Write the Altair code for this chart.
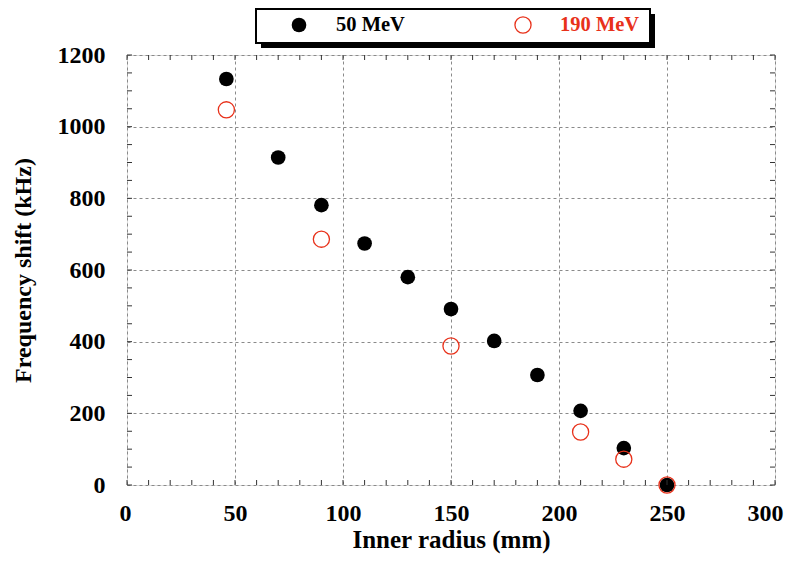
import altair as alt
import pandas as pd

# ---- data ----
r50 = [46, 70, 90, 110, 130, 150, 170, 190, 210, 230, 250]
f50 = [1133, 914, 781, 674, 580, 491, 402, 307, 207, 103, 0]
r190 = [46, 90, 150, 210, 230, 250]
f190 = [1047, 686, 388, 148, 72, 0]
series = ["50 MeV", "190 MeV"]
x_minor = list(range(0, 301, 10))
y_minor = list(range(0, 1201, 50))
x_major = list(range(0, 301, 50))
y_major = list(range(0, 1201, 200))

RED = "#e8311a"
FONT = "Liberation Serif"
W, H = 648, 430

d50 = pd.DataFrame({"r": r50, "f": f50})
d190 = pd.DataFrame({"r": r190, "f": f190})
dx = pd.DataFrame({"r": x_minor})
dy = pd.DataFrame({"f": y_minor})
one = pd.DataFrame({"k": [0]})

xs = alt.Scale(domain=[0, 300], nice=False, zero=False)
ys = alt.Scale(domain=[0, 1200], nice=False, zero=False)

xaxis = alt.Axis(values=x_major, title="Inner radius (mm)", ticks=False, domain=False, format="d",
                 grid=True, gridDash=[3, 3], gridColor="#8a8a8a", gridWidth=1,
                 labelFont=FONT, labelFontSize=24, labelFontWeight="bold", labelColor="black",
                 labelPadding=16, titleFont=FONT, titleFontSize=25, titleFontWeight="bold",
                 titleColor="black", titlePadding=2, labelFlush=True, labelFlushOffset=8)
yaxis = alt.Axis(values=y_major, title="Frequency shift (kHz)", ticks=False, domain=False, format="d",
                 grid=True, gridDash=[3, 3], gridColor="#8a8a8a", gridWidth=1,
                 labelFont=FONT, labelFontSize=24, labelFontWeight="bold", labelColor="black",
                 labelPadding=22, titleFont=FONT, titleFontSize=24, titleFontWeight="bold",
                 titleColor="black", titlePadding=22, labelFlush=False)

X = alt.X("r:Q", scale=xs, axis=xaxis)
Y = alt.Y("f:Q", scale=ys, axis=yaxis)

p50 = alt.Chart(d50).mark_point(filled=True, size=215, color="black", opacity=1).encode(x=X, y=Y)
p190 = alt.Chart(d190).mark_point(filled=False, size=260, color=RED, strokeWidth=1.3, opacity=1).encode(x=X, y=Y)

tick_len = 5
tb = alt.Chart(dx).mark_rule(color="#333", strokeWidth=1).encode(
    x=X, y=alt.value(H), y2=alt.value(H - tick_len))
tt = alt.Chart(dx).mark_rule(color="#333", strokeWidth=1).encode(
    x=X, y=alt.value(0), y2=alt.value(tick_len))
tl = alt.Chart(dy).mark_rule(color="#333", strokeWidth=1).encode(
    y=Y, x=alt.value(0), x2=alt.value(tick_len))
tr = alt.Chart(dy).mark_rule(color="#333", strokeWidth=1).encode(
    y=Y, x=alt.value(W), x2=alt.value(W - tick_len))

# ---- legend box (drawn above the plot area) ----
shadow = alt.Chart(one).mark_rect(color="black").encode(
    x=alt.value(134), x2=alt.value(528), y=alt.value(-41), y2=alt.value(-7))
box = alt.Chart(one).mark_rect(fill="white", stroke="black", strokeWidth=2).encode(
    x=alt.value(129), x2=alt.value(523), y=alt.value(-46), y2=alt.value(-12))
leg50 = alt.Chart(pd.DataFrame({"s": [series[0]]})).mark_point(
    filled=True, size=215, color="black", opacity=1).encode(x=alt.value(172), y=alt.value(-30))
leg190 = alt.Chart(pd.DataFrame({"s": [series[1]]})).mark_point(
    filled=False, size=260, color=RED, strokeWidth=1.3, opacity=1).encode(x=alt.value(396), y=alt.value(-30))
txt50 = alt.Chart(pd.DataFrame({"s": [series[0]]})).mark_text(
    align="left", baseline="middle", font=FONT, fontSize=20.5, fontWeight="bold", color="black").encode(
    x=alt.value(209), y=alt.value(-30), text="s:N")
txt190 = alt.Chart(pd.DataFrame({"s": [series[1]]})).mark_text(
    align="left", baseline="middle", font=FONT, fontSize=20.5, fontWeight="bold", color=RED).encode(
    x=alt.value(433), y=alt.value(-30), text="s:N")

chart = alt.layer(p50, tb, tt, tl, tr, p190, shadow, box, leg50, leg190, txt50, txt190).properties(
    width=W, height=H,
    autosize=alt.AutoSizeParams(type="none"),
    padding={"left": 119, "top": 47, "right": 9, "bottom": 70},
).configure_view(stroke="#222", strokeWidth=1.5).configure(background="white")

chart.save("out.html", embed_options={"renderer": "svg", "actions": False})
